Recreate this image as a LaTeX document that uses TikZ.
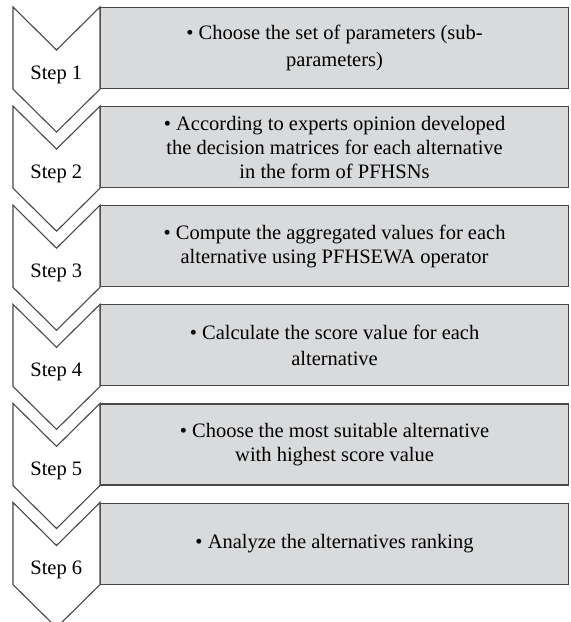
\documentclass[tikz,border=0pt]{standalone}
\usepackage{fontspec}
\setmainfont{Liberation Serif}
\usepackage{xcolor}
\usetikzlibrary{positioning}
\definecolor{boxgray}{RGB}{217,218,220}
\definecolor{linegray}{RGB}{72,72,72}
\newcommand{\chev}[1]{\draw[chevron] (#1.north west) -- ++(-43.5,43) -- ++(-43.5,-43) -- ([xshift=-87pt]#1.south west) -- ++(43.5,43) -- (#1.south west) -- cycle;}

\begin{document}
\begin{tikzpicture}[
x=1pt, y=-1pt, 
font=\fontsize{20.5}{24}\selectfont, 
stepbox/.style={draw=linegray, line width=1.1pt, fill=boxgray, minimum width=468pt, minimum height=81pt, align=center, inner sep=0pt}, 
steplabel/.style={minimum width=87pt, inner sep=0pt, anchor=base east}, 
chevron/.style={draw=linegray, line width=1.1pt, fill=white, line join=miter}]

\useasboundingbox (0,0) rectangle (571,622);

\node (b1) [stepbox, anchor=north west] at (100,7) {\textbullet\ Choose the set of parameters (sub-\\[3pt] parameters)};
\node (b2) [stepbox, below=17pt of b1] {\textbullet\ According to experts opinion developed\\ the decision matrices for each alternative\\ in the form of PFHSNs};
\node (b3) [stepbox, below=17pt of b2] {\textbullet\ Compute the aggregated values for each\\ alternative using PFHSEWA operator};
\node (b4) [stepbox, below=17pt of b3] {\textbullet\ Calculate the score value for each\\[2pt] alternative};
\node (b5) [stepbox, below=17pt of b4] {\textbullet\ Choose the most suitable alternative\\ with highest score value};
\node (b6) [stepbox, below=17pt of b5] {\textbullet\ Analyze the alternatives ranking};

\chev{b1}
\chev{b2}
\chev{b3}
\chev{b4}
\chev{b5}
\chev{b6}

\node (s1) [steplabel] at ([yshift=10pt]b1.south west) {Step 1};
\node (s2) [steplabel] at ([yshift=10pt]b2.south west) {Step 2};
\node (s3) [steplabel] at ([yshift=10pt]b3.south west) {Step 3};
\node (s4) [steplabel] at ([yshift=10pt]b4.south west) {Step 4};
\node (s5) [steplabel] at ([yshift=10pt]b5.south west) {Step 5};
\node (s6) [steplabel] at ([yshift=10pt]b6.south west) {Step 6};
\end{tikzpicture}
\end{document}
